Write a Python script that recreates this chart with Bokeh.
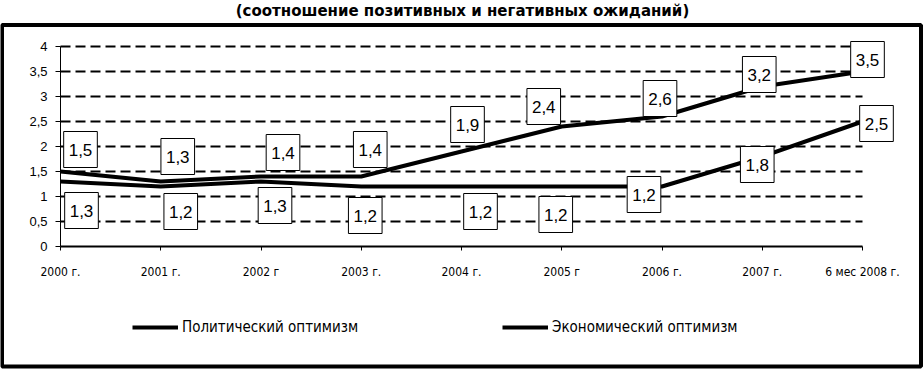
from bokeh.plotting import figure
from bokeh.models import (Range1d, FixedTicker, CustomJSTickFormatter, Label,
                          BoxAnnotation, Legend, LegendItem)
from bokeh.embed import file_html
from bokeh.resources import INLINE

categories = ["2000 г.", "2001 г.", "2002 г", "2003 г.", "2004 г.", "2005 г",
              "2006 г.", "2007 г.", "6 мес 2008 г."]
political = [1.5, 1.3, 1.4, 1.4, 1.9, 2.4, 2.6, 3.2, 3.5]
economic = [1.3, 1.2, 1.3, 1.2, 1.2, 1.2, 1.2, 1.8, 2.5]
y_ticks = [0, 0.5, 1, 1.5, 2, 2.5, 3, 3.5, 4]
series_names = ["Политический оптимизм", "Экономический оптимизм"]
title_text = "(соотношение позитивных и негативных ожиданий)"

# pixel offsets of the value boxes from their points (styling only)
pol_dx = [20, 17, 22, 9, 6, -18, -2, -3, 5]
pol_dy = [22, 25, 24, 27, 27, 20, 18, 12, 12]
eco_dx = [21, 20, 14, 4, 19, -6, -18, -5, 14]
eco_dy = [-29, -25, -24, -29, -25, -28, -8, -8, -2]

W, H = 924, 369
# data area inside the canvas (pixels)
L, R, T, B = 60, 862, 46, 246
n = len(categories)
xs = list(range(n))
ppx = (R - L) / (n - 1)
ppy = (B - T) / 4.0

p = figure(width=W, height=H, output_backend="svg", toolbar_location=None,
           x_range=Range1d(-L / ppx, (n - 1) + (W - R) / ppx),
           y_range=Range1d(-(H - B) / ppy, 4 + T / ppy),
           min_border=0)
p.outline_line_color = None
p.background_fill_color = "white"
p.border_fill_color = "white"
p.xgrid.visible = False
p.ygrid.visible = False

# axes drawn at the data origin
p.xaxis.fixed_location = 0
p.xaxis.bounds = (0, n - 1)
p.xaxis.ticker = FixedTicker(ticks=xs)
p.xaxis.formatter = CustomJSTickFormatter(args=dict(labels=categories),
                                          code="return labels[Math.round(tick)] || '';")
p.xaxis.major_label_text_font = "DejaVu Sans Condensed"
p.xaxis.major_label_text_font_size = "12px"
p.xaxis.major_label_text_color = "black"
p.xaxis.major_tick_out = 4
p.xaxis.major_tick_in = 0
p.xaxis.minor_tick_line_color = None
p.xaxis.major_label_standoff = 14
p.xaxis.axis_line_color = "black"
p.xaxis.axis_line_width = 2
p.xaxis.major_tick_line_color = "black"

p.yaxis.fixed_location = 0
p.yaxis.bounds = (0, 4)
p.yaxis.ticker = FixedTicker(ticks=y_ticks)
p.yaxis.formatter = CustomJSTickFormatter(code="return tick.toString().replace('.', ',');")
p.yaxis.major_label_text_font = "Liberation Sans"
p.yaxis.major_label_text_font_size = "13px"
p.yaxis.major_label_text_color = "black"
p.yaxis.major_tick_out = 5
p.yaxis.major_tick_in = 0
p.yaxis.minor_tick_line_color = None
p.yaxis.major_label_standoff = 8
p.yaxis.axis_line_color = "black"
p.yaxis.major_tick_line_color = "black"

# dashed horizontal gridlines over the data span
g = y_ticks[1:]
p.segment(x0=[0] * len(g), x1=[n - 1] * len(g), y0=g, y1=g,
          line_color="black", line_width=2, line_dash="10 5", level="underlay")

# lines
r1 = p.line(xs, political, line_width=4, line_color="black")
r2 = p.line(xs, economic, line_width=4, line_color="black")

# value boxes
def add_boxes(vals, dxs, dys):
    for x, v, dx, dy in zip(xs, vals, dxs, dys):
        p.add_layout(Label(x=x, y=v, x_offset=dx, y_offset=dy,
                           text=str(v).replace('.', ','),
                           text_align="center", text_baseline="middle",
                           text_font="Liberation Sans", text_font_size="17px",
                           text_color="black",
                           background_fill_color="white",
                           border_line_color="black", border_line_width=1,
                           padding=dict(left=5, right=5, top=12, bottom=12)))

add_boxes(political, pol_dx, pol_dy)
add_boxes(economic, eco_dx, eco_dy)

legend_style = dict(orientation="horizontal", glyph_width=46, glyph_height=20,
                    label_standoff=4, padding=0, margin=0,
                    border_line_color=None, background_fill_alpha=0,
                    label_text_font="DejaVu Sans Condensed",
                    label_text_font_size="15px", label_text_color="black")
p.add_layout(Legend(items=[LegendItem(label=series_names[0], renderers=[r1])],
                    location=(132, 32), **legend_style), "center")
p.add_layout(Legend(items=[LegendItem(label=series_names[1], renderers=[r2])],
                    location=(502, 32), **legend_style), "center")

p.add_layout(Label(x=462, y=1, x_units="canvas", y_units="canvas",
                   text=title_text, text_align="center", text_baseline="top",
                   text_font="DejaVu Sans", text_font_style="bold",
                   text_font_size="15px", text_color="black"))

p.add_layout(BoxAnnotation(left=1.5, right=920.5, top=24.5, bottom=366,
                           left_units="canvas", right_units="canvas",
                           top_units="canvas", bottom_units="canvas",
                           fill_alpha=0, line_color="black", line_alpha=1,
                           line_width=4))

open("out.html", "w").write(file_html(p, INLINE))
